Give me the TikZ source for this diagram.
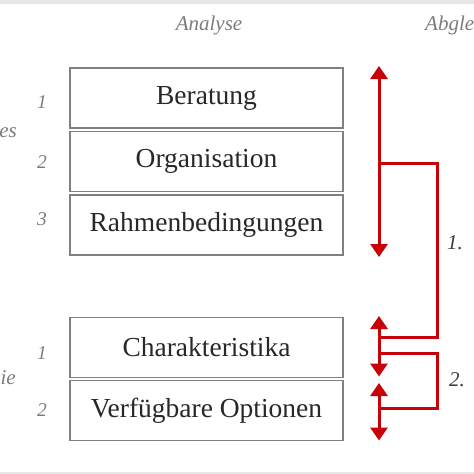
\documentclass[tikz,border=0pt]{standalone}
\usepackage{fontspec}
\setmainfont{Liberation Serif}
\usetikzlibrary{arrows.meta,calc}
\definecolor{signal}{RGB}{200,0,8}
\definecolor{rim}{RGB}{128,128,128}
\definecolor{ink}{RGB}{40,40,40}
\definecolor{muted}{RGB}{125,125,125}
\definecolor{strip}{RGB}{230,230,230}

\begin{document}
\begin{tikzpicture}[
  x=1pt, y=-1pt,
  field/.style={
    draw=rim, fill=white, line width=1.4pt,
    minimum width=273pt, minimum height=60pt, inner sep=0pt,
    font=\fontsize{27.5}{30}\selectfont, text=ink, align=center
  },
  label/.style={font=\fontsize{21}{24}\selectfont\itshape, text=muted, inner sep=0pt},
  index/.style={font=\fontsize{19.5}{22}\selectfont\itshape, text=muted, inner sep=0pt},
  phase/.style={label, text=ink!90},
  swap/.style={{Triangle[width=17pt,length=13pt]}-{Triangle[width=17pt,length=13pt]},
    line width=3pt, draw=signal},
  link/.style={line width=3pt, draw=signal, line join=miter}
]

% Frame of the cut-out.
\clip (0,0) rectangle (474,474);
\fill[white] (0,0) rectangle (474,474);
\fill[strip] (0,0) rectangle (474,4);
\fill[strip] (0,472) rectangle (474,474);

% Column heads.
\node[label] (analyse)  at (209,25) {Analyse};
\node[label, anchor=west] (abgleich) at (425,25) {Abgle};

% Analysis fields.
\node[field] (beratung)     at (206.5,98)    {Beratung};
\node[field] (organisation) at (206.5,161.5) {Organisation};
\node[field] (rahmen)       at (206.5,225)   {Rahmenbedingungen};
\node[field] (merkmale)     at (206.5,347.3) {Charakteristika};
\node[field] (optionen)     at (206.5,410.3) {Verfügbare Optionen};

% Row numbers and cut-off side labels.
\node[index] (n1) at (42,102) {1};
\node[index] (n2) at (42,162) {2};
\node[index] (n3) at (42,219) {3};
\node[index] (m1) at (42,353) {1};
\node[index] (m2) at (42,410) {2};
\node[label, anchor=east] (sideA) at (17,133) {es};
\node[label, anchor=east] (sideB) at (16,378) {ie};

% Comparison arrows.
\coordinate (aTop) at (379,66);
\coordinate (aBot) at (379,257);
\coordinate (bTop) at (379,316);
\coordinate (bBot) at (379,376.5);
\coordinate (cTop) at (379,383);
\coordinate (cBot) at (379,440.5);
\draw[swap] (aBot) -- (aTop);
\draw[swap] (bBot) -- (bTop);
\draw[swap] (cBot) -- (cTop);

% Brackets joining the arrows.
\coordinate (aJoin) at (379,163);
\coordinate (bJoin) at (379,337);
\coordinate (bLow)  at (379,353);
\coordinate (cJoin) at (379,408);
\draw[link] (aJoin) -- (437,163) -- (437,337) -- (bJoin);
\draw[link] (bLow) -- (437,353) -- (437,408) -- (cJoin);

\node[phase, anchor=west] (phase1) at (447,243) {1.};
\node[phase, anchor=west] (phase2) at (449,380) {2.};

\end{tikzpicture}
\end{document}
